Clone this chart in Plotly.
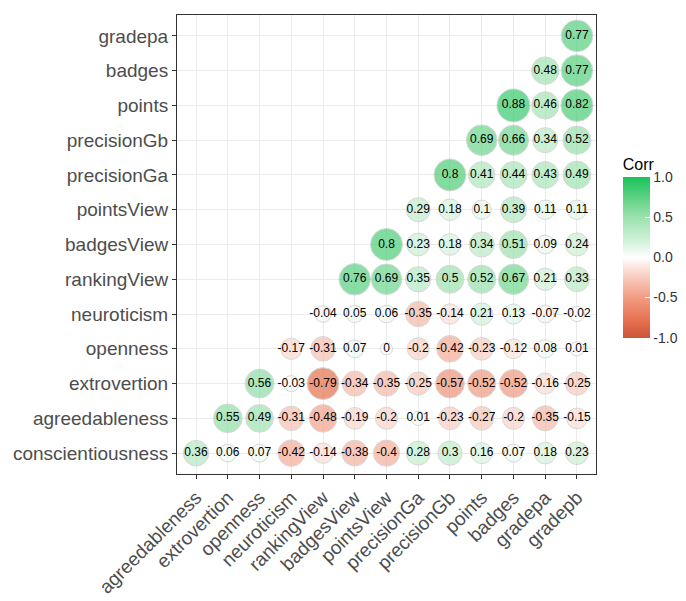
import numpy as np
import plotly.graph_objects as go

variables = ["conscientiousness", "agreedableness", "extrovertion", "openness",
             "neuroticism", "rankingView", "badgesView", "pointsView",
             "precisionGa", "precisionGb", "points", "badges", "gradepa", "gradepb"]

# lower-triangle correlations: row variable -> values for the following variables
conscientiousness = [0.36, 0.06, 0.07, -0.42, -0.14, -0.38, -0.4, 0.28, 0.3, 0.16, 0.07, 0.18, 0.23]
agreedableness = [0.55, 0.49, -0.31, -0.48, -0.19, -0.2, 0.01, -0.23, -0.27, -0.2, -0.35, -0.15]
extrovertion = [0.56, -0.03, -0.79, -0.34, -0.35, -0.25, -0.57, -0.52, -0.52, -0.16, -0.25]
openness = [-0.17, -0.31, 0.07, 0, -0.2, -0.42, -0.23, -0.12, 0.08, 0.01]
neuroticism = [-0.04, 0.05, 0.06, -0.35, -0.14, 0.21, 0.13, -0.07, -0.02]
rankingView = [0.76, 0.69, 0.35, 0.5, 0.52, 0.67, 0.21, 0.33]
badgesView = [0.8, 0.23, 0.18, 0.34, 0.51, 0.09, 0.24]
pointsView = [0.29, 0.18, 0.1, 0.39, 0.11, 0.11]
precisionGa = [0.8, 0.41, 0.44, 0.43, 0.49]
precisionGb = [0.69, 0.66, 0.34, 0.52]
points = [0.88, 0.46, 0.82]
badges = [0.48, 0.77]
gradepa = [0.77]

rows = [conscientiousness, agreedableness, extrovertion, openness, neuroticism,
        rankingView, badgesView, pointsView, precisionGa, precisionGb, points,
        badges, gradepa]

x_cats = variables[1:]
y_cats = variables[:-1]

xs, ys, vals = [], [], []
for r, row in enumerate(rows):
    for k, v in enumerate(row):
        xs.append(variables[r + 1 + k])
        ys.append(variables[r])
        vals.append(v)

vals = np.array(vals)
absmax = np.abs(vals).max()
sizes = 12 + 21 * np.sqrt(np.abs(vals) / absmax)
labels = [("%g" % v) for v in vals]

colorscale = [
    [0.0, "#C9553C"],
    [0.1, "#E66E4C"],
    [0.25, "#F29C84"],
    [0.4, "#FAD4C9"],
    [0.5, "#FFFFFF"],
    [0.6, "#D2F2DA"],
    [0.75, "#9CE2AF"],
    [0.9, "#4ECE79"],
    [1.0, "#17C35A"],
]

FONT = "Liberation Sans, Arial, sans-serif"

fig = go.Figure()
fig.add_trace(go.Scatter(
    x=xs, y=ys, mode="markers+text",
    text=labels, textposition="middle center",
    textfont=dict(family=FONT, size=12, color="#000000"),
    marker=dict(size=sizes, color=vals, colorscale=colorscale, cmin=-1, cmax=1,
                line=dict(color="#C8C8C8", width=1),
                colorbar=dict(
                    title=dict(text="Corr", font=dict(family=FONT, size=16, color="#000000"),
                               side="top"),
                    x=1.064, xanchor="left", xpad=0, y=0.496, yanchor="middle", ypad=0,
                    thickness=27, len=183, lenmode="pixels",
                    tickvals=[-1, -0.5, 0, 0.5, 1],
                    ticktext=["-1.0", "-0.5", "0.0", "0.5", "1.0"],
                    ticks="inside", tickcolor="white", ticklen=5,
                    tickfont=dict(family=FONT, size=14, color="#333333"),
                    outlinewidth=0,
                )),
    hoverinfo="skip", showlegend=False,
))

yfont = dict(family=FONT, size=19, color="#4D4D4D")
xfont = dict(family=FONT, size=19, color="#4D4D4D")
fig.update_layout(
    width=686, height=601,
    margin=dict(l=169, r=98, t=7, b=135),
    plot_bgcolor="white", paper_bgcolor="white",
    xaxis=dict(categoryorder="array", categoryarray=x_cats, range=[-0.6, 12.6],
               showgrid=True, gridcolor="#EBEBEB", gridwidth=1, automargin=False,
               tickangle=-45, tickfont=xfont, ticks="outside", ticklen=4,
               tickcolor="#333333", showline=True, linecolor="#333333", linewidth=1,
               mirror=True, zeroline=False, fixedrange=True),
    yaxis=dict(categoryorder="array", categoryarray=y_cats, range=[-0.6, 12.6],
               showgrid=True, gridcolor="#EBEBEB", gridwidth=1, automargin=False,
               tickfont=yfont, ticks="outside", ticklen=4,
               tickcolor="#333333", showline=True, linecolor="#333333", linewidth=1,
               mirror=True, zeroline=False, fixedrange=True),
)

fig.write_html("out.html")
